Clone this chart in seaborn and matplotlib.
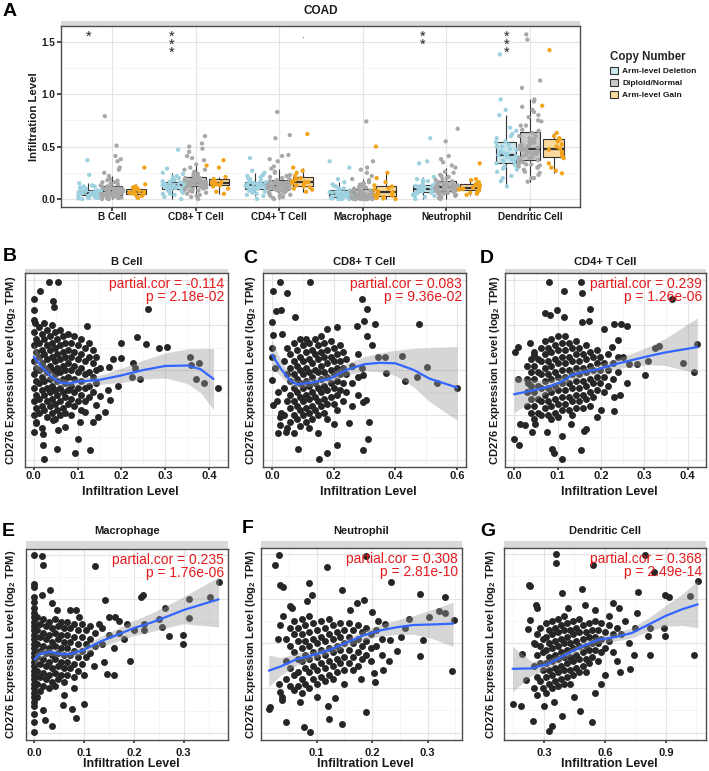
import numpy as np
import pandas as pd
import matplotlib
matplotlib.use("Agg")
import matplotlib.pyplot as plt
from matplotlib.patches import Patch, Rectangle
import seaborn as sns

# ---------------- Panel A data (infiltration level by copy number) ----------------
cells = ["B Cell", "CD8+ T Cell", "CD4+ T Cell", "Macrophage", "Neutrophil", "Dendritic Cell"]
copy_levels = ["Arm-level Deletion", "Diploid/Normal", "Arm-level Gain"]

bcell_del = [0.0, 0.005, 0.01, 0.015, 0.02, 0.025, 0.03, 0.035, 0.04, 0.042, 0.045, 0.048, 0.05, 0.053,
             0.056, 0.06, 0.063, 0.066, 0.07, 0.074, 0.078, 0.082, 0.086, 0.09, 0.1, 0.11, 0.12, 0.13,
             0.15, 0.23, 0.37, 0.01, 0.03, 0.05, 0.06, 0.07, 0.08, 0.1, 0.12, 0.055, 0.065]
bcell_dip = [0.0, 0.0, 0.003, 0.006, 0.01, 0.012, 0.014, 0.018, 0.022, 0.026, 0.03, 0.034, 0.038, 0.04,
             0.043, 0.046, 0.05, 0.053, 0.056, 0.059, 0.062, 0.065, 0.065, 0.068, 0.071, 0.074, 0.077,
             0.08, 0.083, 0.086, 0.09, 0.094, 0.097, 0.1, 0.105, 0.11, 0.12, 0.13, 0.14, 0.15, 0.16,
             0.175, 0.19, 0.22, 0.25, 0.28, 0.3, 0.36, 0.38, 0.41, 0.51, 0.79,
             0.01, 0.02, 0.03, 0.04, 0.05, 0.06, 0.07, 0.08, 0.09, 0.1, 0.12, 0.14, 0.16, 0.18,
             0.045, 0.055, 0.065, 0.075, 0.085, 0.095]
bcell_gain = [0.01, 0.02, 0.03, 0.045, 0.05, 0.055, 0.06, 0.065, 0.07, 0.075, 0.085, 0.09, 0.1, 0.11,
              0.12, 0.14, 0.30]

cd8_del = [0.0, 0.02, 0.04, 0.05, 0.06, 0.07, 0.08, 0.09, 0.095, 0.1, 0.105, 0.11, 0.115, 0.12, 0.125,
           0.13, 0.135, 0.14, 0.145, 0.15, 0.155, 0.16, 0.165, 0.17, 0.18, 0.2, 0.22, 0.25, 0.29, 0.47,
           0.05, 0.08, 0.1, 0.12, 0.13, 0.14, 0.16, 0.18, 0.21, 0.24, 0.125, 0.135]
cd8_dip = [0.0, 0.02, 0.04, 0.06, 0.07, 0.08, 0.09, 0.1, 0.105, 0.11, 0.115,
           0.12, 0.123, 0.126, 0.13, 0.134, 0.138, 0.142, 0.146, 0.15, 0.153, 0.155,
           0.16, 0.165, 0.17, 0.175, 0.18, 0.185, 0.19, 0.195, 0.2, 0.205, 0.21,
           0.24, 0.28, 0.33, 0.37, 0.39, 0.41, 0.45, 0.48, 0.5, 0.53, 0.6,
           0.03, 0.05, 0.08, 0.1, 0.11, 0.12, 0.13, 0.14, 0.15, 0.16, 0.17, 0.18, 0.19, 0.2, 0.22,
           0.24, 0.26, 0.28, 0.3, 0.14, 0.155, 0.165]
cd8_gain = [0.05, 0.07, 0.1, 0.12, 0.13, 0.135, 0.14, 0.15, 0.155, 0.16, 0.165, 0.17, 0.18, 0.19,
            0.21, 0.3, 0.32, 0.37]

cd4_del = [0.0, 0.03, 0.05, 0.06, 0.07, 0.08, 0.09, 0.1, 0.105, 0.11, 0.115, 0.12, 0.125, 0.13, 0.135,
           0.14, 0.145, 0.15, 0.155, 0.16, 0.165, 0.17, 0.19, 0.21, 0.23, 0.25, 0.27, 0.39,
           0.04, 0.08, 0.1, 0.12, 0.13, 0.14, 0.16, 0.18, 0.2, 0.22, 0.125, 0.135]
cd4_dip = [0.0, 0.01, 0.02, 0.03, 0.04, 0.05, 0.06, 0.07, 0.075, 0.08, 0.085,
           0.09, 0.093, 0.096, 0.1, 0.103, 0.106, 0.11, 0.113, 0.116, 0.12, 0.12,
           0.125, 0.13, 0.133, 0.136, 0.14, 0.143, 0.146, 0.15, 0.153, 0.157, 0.16,
           0.18, 0.2, 0.22, 0.25, 0.29, 0.31, 0.36, 0.38, 0.41, 0.42, 0.58, 0.61, 0.83,
           0.02, 0.04, 0.06, 0.08, 0.09, 0.1, 0.11, 0.12, 0.13, 0.14, 0.15, 0.16, 0.17, 0.19,
           0.21, 0.23, 0.26, 0.105, 0.125, 0.145]
cd4_gain = [0.07, 0.09, 0.1, 0.11, 0.12, 0.13, 0.14, 0.15, 0.16, 0.165, 0.17, 0.18, 0.19, 0.2, 0.22,
            0.25, 0.27, 0.3, 0.62]

mac_del = [0.0, 0.0, 0.0, 0.005, 0.005, 0.01, 0.01, 0.015, 0.02, 0.025, 0.03, 0.035, 0.04, 0.04, 0.045,
           0.05, 0.055, 0.06, 0.065, 0.07, 0.08, 0.09, 0.1, 0.12, 0.14, 0.16, 0.19, 0.3, 0.36,
           0.0, 0.01, 0.02, 0.03, 0.04, 0.05, 0.06, 0.08, 0.1, 0.13]
mac_dip = [0.0, 0.0, 0.0, 0.0, 0.0, 0.0, 0.0, 0.002, 0.004, 0.006, 0.008,
           0.01, 0.012, 0.015, 0.018, 0.02, 0.022, 0.025, 0.027, 0.03, 0.03,
           0.035, 0.04, 0.045, 0.05, 0.055, 0.06, 0.065, 0.07, 0.075, 0.08,
           0.09, 0.1, 0.11, 0.12, 0.14, 0.16, 0.19, 0.22, 0.25, 0.28, 0.3, 0.36, 0.74,
           0.0, 0.0, 0.0, 0.005, 0.01, 0.015, 0.02, 0.025, 0.03, 0.04, 0.05, 0.06, 0.07, 0.08,
           0.1, 0.12, 0.15, 0.18, 0.035, 0.045]
mac_gain = [0.0, 0.005, 0.01, 0.015, 0.02, 0.03, 0.04, 0.05, 0.06, 0.065, 0.075, 0.09, 0.1, 0.12,
            0.13, 0.16, 0.2, 0.25, 0.5]

neu_del = [0.0, 0.02, 0.03, 0.04, 0.05, 0.055, 0.06, 0.065, 0.07, 0.075, 0.08, 0.085, 0.09, 0.095,
           0.1, 0.105, 0.11, 0.115, 0.12, 0.125, 0.13, 0.135, 0.15, 0.17, 0.19, 0.21, 0.34, 0.36, 0.58,
           0.03, 0.06, 0.08, 0.09, 0.1, 0.11, 0.12, 0.14, 0.16, 0.18]
neu_dip = [0.0, 0.01, 0.02, 0.03, 0.04, 0.05, 0.055, 0.06, 0.065, 0.07,
           0.075, 0.08, 0.085, 0.09, 0.095, 0.1, 0.103, 0.106, 0.11, 0.11,
           0.115, 0.12, 0.125, 0.13, 0.135, 0.14, 0.145, 0.15, 0.155,
           0.17, 0.19, 0.21, 0.23, 0.26, 0.3, 0.32, 0.35, 0.38, 0.41, 0.55, 0.67,
           0.02, 0.04, 0.06, 0.07, 0.08, 0.09, 0.1, 0.11, 0.12, 0.13, 0.14, 0.15, 0.16, 0.18,
           0.2, 0.22, 0.25, 0.095, 0.105, 0.125]
neu_gain = [0.04, 0.05, 0.06, 0.07, 0.08, 0.09, 0.095, 0.1, 0.105, 0.11, 0.12, 0.13, 0.14, 0.15,
            0.16, 0.18, 0.19, 0.34]

dc_del = [0.12, 0.17, 0.22, 0.26, 0.29, 0.31, 0.33, 0.34, 0.355, 0.37, 0.38, 0.39, 0.4, 0.41, 0.42,
          0.43, 0.44, 0.455, 0.47, 0.48, 0.5, 0.52, 0.55, 0.58, 0.62, 0.65, 0.68, 0.8, 0.85, 0.95, 1.38,
          0.2, 0.28, 0.32, 0.36, 0.4, 0.42, 0.45, 0.5, 0.54, 0.6]
dc_dip = [0.165, 0.2, 0.23, 0.26, 0.28, 0.3, 0.31, 0.32, 0.33, 0.34, 0.35,
          0.36, 0.37, 0.38, 0.39, 0.4, 0.41, 0.42, 0.43, 0.44, 0.45, 0.46,
          0.47, 0.48, 0.49, 0.5, 0.51, 0.52, 0.53, 0.54, 0.55, 0.565, 0.58,
          0.6, 0.63, 0.66, 0.7, 0.74, 0.78, 0.83, 0.88, 0.93, 0.95, 1.06, 1.13, 1.52, 1.57,
          0.2, 0.25, 0.3, 0.33, 0.36, 0.39, 0.42, 0.45, 0.48, 0.51, 0.54, 0.57, 0.6, 0.65, 0.7,
          0.75, 0.8, 0.85, 0.44, 0.47, 0.5]
dc_gain = [0.245, 0.27, 0.3, 0.34, 0.39, 0.41, 0.43, 0.45, 0.47, 0.48, 0.5, 0.52, 0.55, 0.57, 0.58,
           0.6, 0.63, 0.89, 1.42]

# significance labels per cell type (copy level they sit above, label text)
sig_cells = ["B Cell", "CD8+ T Cell", "CD4+ T Cell", "Neutrophil", "Dendritic Cell"]
sig_levels = ["Arm-level Deletion", "Arm-level Deletion", "Arm-level Gain", "Arm-level Deletion",
              "Arm-level Deletion"]
sig_labels = ["*", "***", ".", "**", "***"]

# ---------------- Scatter panels data ----------------
b_points = [
    (0.035, 7.96), (0.056, 7.96), (0.014, 7.75), (0.0, 7.57), (0.0, 7.34), (0.0, 7.12), (0.002, 7.04),
    (0.045, 7.53), (0.047, 7.40), (0.261, 7.36), (0.121, 6.99), (0.235, 6.73), (0.199, 6.60),
    (0.255, 6.57), (0.285, 6.50), (0.303, 6.52), (0.357, 6.28), (0.376, 6.16), (0.359, 6.11),
    (0.371, 5.81), (0.388, 5.72), (0.42, 5.61), (0.227, 6.15), (0.231, 6.04), (0.181, 6.24),
    (0.2, 6.26), (0.172, 6.07), (0.151, 6.05), (0.224, 5.84), (0.243, 5.81), (0.193, 5.65),
    (0.17, 5.55), (0.151, 5.42), (0.143, 5.22), (0.174, 5.33), (0.162, 5.07), (0.147, 4.96),
    (0.136, 4.84), (0.106, 4.84), (0.128, 4.21), (0.094, 4.15), (0.052, 4.25), (0.024, 4.02),
    (0.02, 4.34), (0.0, 4.61), (0.022, 4.58), (0.005, 4.81), (0.102, 4.47), (0.045, 4.88),
    (0.071, 4.73), (0.056, 4.66), (0.117, 5.07),
    (0.0, 6.85), (0.0, 6.55), (0.0, 6.2), (0.0, 5.9), (0.0, 5.6), (0.0, 5.3), (0.0, 5.0),
    (0.006, 6.7), (0.006, 6.4), (0.006, 6.05), (0.006, 5.75), (0.006, 5.45), (0.006, 5.15), (0.006, 4.85),
    (0.012, 6.95), (0.012, 6.6), (0.012, 6.3), (0.012, 6.0), (0.012, 5.7), (0.012, 5.35), (0.012, 5.05),
    (0.018, 6.8), (0.018, 6.45), (0.018, 6.15), (0.018, 5.85), (0.018, 5.55), (0.018, 5.2), (0.018, 4.7),
    (0.024, 7.05), (0.024, 6.7), (0.024, 6.35), (0.024, 6.05), (0.024, 5.75), (0.024, 5.45), (0.024, 5.1),
    (0.030, 6.9), (0.030, 6.55), (0.030, 6.25), (0.030, 5.95), (0.030, 5.6), (0.030, 5.3), (0.030, 4.95),
    (0.036, 6.75), (0.036, 6.45), (0.036, 6.1), (0.036, 5.8), (0.036, 5.5), (0.036, 5.2),
    (0.042, 7.0), (0.042, 6.6), (0.042, 6.3), (0.042, 6.0), (0.042, 5.65), (0.042, 5.35), (0.042, 5.05),
    (0.048, 6.85), (0.048, 6.5), (0.048, 6.2), (0.048, 5.9), (0.048, 5.55), (0.048, 5.25), (0.048, 4.9),
    (0.054, 6.7), (0.054, 6.35), (0.054, 6.05), (0.054, 5.75), (0.054, 5.45), (0.054, 5.1),
    (0.060, 6.9), (0.060, 6.55), (0.060, 6.25), (0.060, 5.95), (0.060, 5.6), (0.060, 5.3), (0.060, 5.0),
    (0.066, 6.75), (0.066, 6.4), (0.066, 6.1), (0.066, 5.8), (0.066, 5.5), (0.066, 5.15),
    (0.072, 6.6), (0.072, 6.3), (0.072, 6.0), (0.072, 5.7), (0.072, 5.4), (0.072, 5.05),
    (0.078, 6.8), (0.078, 6.45), (0.078, 6.15), (0.078, 5.85), (0.078, 5.55), (0.078, 5.25),
    (0.085, 6.6), (0.085, 6.3), (0.085, 6.0), (0.085, 5.65), (0.085, 5.35), (0.085, 5.0),
    (0.092, 6.75), (0.092, 6.4), (0.092, 6.1), (0.092, 5.8), (0.092, 5.5), (0.092, 5.2),
    (0.100, 6.55), (0.100, 6.25), (0.100, 5.95), (0.100, 5.6), (0.100, 5.3),
    (0.108, 6.7), (0.108, 6.35), (0.108, 6.05), (0.108, 5.75), (0.108, 5.45), (0.108, 5.1),
    (0.116, 6.5), (0.116, 6.2), (0.116, 5.9), (0.116, 5.6), (0.116, 5.3),
    (0.125, 6.6), (0.125, 6.3), (0.125, 5.95), (0.125, 5.65), (0.125, 5.4),
    (0.134, 6.45), (0.134, 6.15), (0.134, 5.85), (0.134, 5.5),
    (0.143, 6.3), (0.143, 6.0), (0.143, 5.7),
]
b_curve_x = [0.00, 0.02, 0.04, 0.06, 0.08, 0.10, 0.15, 0.20, 0.25, 0.30, 0.35, 0.38, 0.41]
b_curve_y = [6.30, 6.05, 5.85, 5.72, 5.70, 5.74, 5.78, 5.88, 6.00, 6.09, 6.10, 6.02, 5.80]
b_curve_lo = [6.05, 5.90, 5.74, 5.64, 5.63, 5.67, 5.68, 5.72, 5.80, 5.82, 5.70, 5.50, 5.12]
b_curve_hi = [6.58, 6.22, 5.98, 5.82, 5.78, 5.82, 5.88, 6.04, 6.22, 6.38, 6.47, 6.48, 6.48]

c_points = [
    (0.025, 7.96), (0.123, 7.96), (0.003, 7.75), (0.049, 7.72), (0.012, 7.31), (0.03, 7.34),
    (0.001, 7.08), (0.074, 7.18), (0.291, 7.57), (0.307, 7.36), (0.298, 7.10), (0.334, 7.03),
    (0.477, 7.03), (0.275, 6.99), (0.212, 6.96), (0.177, 6.91), (0.034, 6.80), (0.003, 6.78),
    (0.0, 6.48), (0.0, 5.78), (0.003, 5.22), (0.025, 4.96), (0.025, 4.77), (0.02, 4.60),
    (0.047, 4.62), (0.085, 4.25), (0.152, 4.02), (0.177, 4.16), (0.212, 4.34), (0.312, 4.46),
    (0.296, 4.21), (0.315, 4.84), (0.305, 5.33), (0.296, 5.29), (0.25, 4.81), (0.345, 6.28),
    (0.365, 6.28), (0.423, 6.31), (0.37, 5.94), (0.432, 5.75), (0.47, 5.84), (0.502, 6.07),
    (0.535, 5.72), (0.6, 5.61), (0.296, 5.89), (0.293, 6.04), (0.323, 6.56), (0.307, 6.75),
    (0.0, 6.3), (0.01, 6.05), (0.02, 5.5), (0.015, 5.3), (0.03, 5.05),
    (0.04, 6.2), (0.04, 5.6), (0.04, 5.0),
    (0.05, 6.5), (0.05, 5.9), (0.05, 5.3), (0.05, 4.7),
    (0.06, 6.35), (0.06, 6.05), (0.06, 5.75), (0.06, 5.45), (0.06, 5.15), (0.06, 4.85),
    (0.07, 6.6), (0.07, 6.2), (0.07, 5.9), (0.07, 5.6), (0.07, 5.3), (0.07, 5.0), (0.07, 4.6),
    (0.08, 6.45), (0.08, 6.1), (0.08, 5.8), (0.08, 5.5), (0.08, 5.2), (0.08, 4.9),
    (0.09, 6.7), (0.09, 6.3), (0.09, 6.0), (0.09, 5.7), (0.09, 5.4), (0.09, 5.1), (0.09, 4.75),
    (0.10, 6.55), (0.10, 6.2), (0.10, 5.9), (0.10, 5.6), (0.10, 5.3), (0.10, 5.0),
    (0.11, 6.7), (0.11, 6.4), (0.11, 6.05), (0.11, 5.75), (0.11, 5.45), (0.11, 5.15), (0.11, 4.85),
    (0.12, 6.6), (0.12, 6.25), (0.12, 5.95), (0.12, 5.65), (0.12, 5.35), (0.12, 5.05), (0.12, 4.7),
    (0.13, 6.45), (0.13, 6.15), (0.13, 5.85), (0.13, 5.5), (0.13, 5.2), (0.13, 4.9),
    (0.14, 6.7), (0.14, 6.35), (0.14, 6.0), (0.14, 5.7), (0.14, 5.4), (0.14, 5.1),
    (0.15, 6.55), (0.15, 6.25), (0.15, 5.95), (0.15, 5.6), (0.15, 5.3), (0.15, 5.0), (0.15, 4.6),
    (0.16, 6.75), (0.16, 6.4), (0.16, 6.1), (0.16, 5.8), (0.16, 5.5), (0.16, 5.2),
    (0.17, 6.6), (0.17, 6.3), (0.17, 5.95), (0.17, 5.65), (0.17, 5.35), (0.17, 5.05),
    (0.18, 6.45), (0.18, 6.15), (0.18, 5.85), (0.18, 5.55), (0.18, 5.25), (0.18, 4.9),
    (0.19, 6.65), (0.19, 6.3), (0.19, 6.0), (0.19, 5.7), (0.19, 5.4),
    (0.20, 6.5), (0.20, 6.2), (0.20, 5.9), (0.20, 5.6), (0.20, 5.25), (0.20, 4.8),
    (0.21, 6.35), (0.21, 6.05), (0.21, 5.75), (0.21, 5.45), (0.21, 5.1),
    (0.22, 6.55), (0.22, 6.2), (0.22, 5.9), (0.22, 5.55),
    (0.23, 6.4), (0.23, 6.05), (0.23, 5.7), (0.23, 5.3),
    (0.24, 6.25), (0.24, 5.9), (0.24, 5.5),
    (0.26, 6.1), (0.26, 5.7), (0.26, 5.2),
    (0.28, 6.35), (0.28, 5.85), (0.28, 5.45),
]
c_curve_x = [0.00, 0.03, 0.06, 0.08, 0.13, 0.19, 0.24, 0.30, 0.35, 0.40, 0.46, 0.51, 0.60]
c_curve_y = [6.34, 6.02, 5.76, 5.68, 5.72, 5.81, 6.00, 6.13, 6.16, 6.15, 6.00, 5.81, 5.61]
c_curve_lo = [6.05, 5.85, 5.66, 5.60, 5.64, 5.72, 5.88, 5.98, 5.96, 5.88, 5.62, 5.30, 4.88]
c_curve_hi = [6.65, 6.20, 5.88, 5.77, 5.81, 5.92, 6.14, 6.30, 6.38, 6.44, 6.48, 6.50, 6.52]

d_points = [
    (0.081, 7.96), (0.154, 7.96), (0.114, 7.75), (0.157, 7.72), (0.07, 7.28), (0.083, 7.22),
    (0.098, 7.34), (0.174, 7.36), (0.116, 7.17), (0.156, 7.08), (0.172, 7.10), (0.363, 7.57),
    (0.229, 7.02), (0.247, 7.03), (0.261, 6.97), (0.206, 6.91), (0.001, 6.41), (0.009, 6.51),
    (0.037, 6.60), (0.045, 6.34), (0.01, 5.81), (0.031, 5.72), (0.0, 4.47), (0.012, 4.34),
    (0.014, 4.79), (0.025, 4.77), (0.041, 4.62), (0.049, 4.79), (0.075, 4.62), (0.088, 4.25),
    (0.093, 4.15), (0.11, 4.02), (0.11, 4.52), (0.154, 4.22), (0.16, 4.64), (0.165, 4.69),
    (0.231, 5.09), (0.244, 5.44), (0.302, 5.89), (0.308, 6.19), (0.283, 6.13), (0.265, 6.13),
    (0.325, 6.49), (0.334, 6.54), (0.388, 6.16), (0.415, 5.96), (0.422, 6.57), (0.225, 6.52),
    (0.24, 6.66), (0.25, 6.3), (0.26, 5.7), (0.23, 5.4), (0.2, 5.1), (0.19, 4.95), (0.13, 4.8),
    (0.03, 6.1), (0.03, 5.8), (0.03, 5.5), (0.03, 5.2),
    (0.038, 6.25), (0.038, 5.95), (0.038, 5.65), (0.038, 5.35), (0.038, 5.05),
    (0.046, 6.4), (0.046, 6.1), (0.046, 5.8), (0.046, 5.5), (0.046, 5.2), (0.046, 4.9),
    (0.054, 6.25), (0.054, 5.95), (0.054, 5.65), (0.054, 5.35), (0.054, 5.05),
    (0.062, 6.5), (0.062, 6.2), (0.062, 5.9), (0.062, 5.6), (0.062, 5.3), (0.062, 5.0),
    (0.070, 6.65), (0.070, 6.35), (0.070, 6.05), (0.070, 5.75), (0.070, 5.45), (0.070, 5.15),
    (0.078, 6.5), (0.078, 6.2), (0.078, 5.9), (0.078, 5.6), (0.078, 5.3), (0.078, 5.0),
    (0.086, 6.7), (0.086, 6.4), (0.086, 6.1), (0.086, 5.8), (0.086, 5.5), (0.086, 5.2), (0.086, 4.9),
    (0.094, 6.55), (0.094, 6.25), (0.094, 5.95), (0.094, 5.65), (0.094, 5.35), (0.094, 5.05),
    (0.102, 6.75), (0.102, 6.45), (0.102, 6.15), (0.102, 5.85), (0.102, 5.55), (0.102, 5.25), (0.102, 4.95),
    (0.110, 6.6), (0.110, 6.3), (0.110, 6.0), (0.110, 5.7), (0.110, 5.4), (0.110, 5.1),
    (0.118, 6.75), (0.118, 6.45), (0.118, 6.15), (0.118, 5.85), (0.118, 5.55), (0.118, 5.25),
    (0.126, 6.6), (0.126, 6.3), (0.126, 6.0), (0.126, 5.7), (0.126, 5.4), (0.126, 5.1),
    (0.134, 6.5), (0.134, 6.2), (0.134, 5.9), (0.134, 5.6), (0.134, 5.3), (0.134, 5.0),
    (0.142, 6.65), (0.142, 6.35), (0.142, 6.05), (0.142, 5.75), (0.142, 5.45), (0.142, 5.15),
    (0.150, 6.5), (0.150, 6.2), (0.150, 5.9), (0.150, 5.6), (0.150, 5.3),
    (0.158, 6.35), (0.158, 6.05), (0.158, 5.75), (0.158, 5.45), (0.158, 5.15),
    (0.166, 6.55), (0.166, 6.25), (0.166, 5.95), (0.166, 5.65), (0.166, 5.35),
    (0.174, 6.4), (0.174, 6.1), (0.174, 5.8), (0.174, 5.5), (0.174, 5.2),
    (0.182, 6.3), (0.182, 6.0), (0.182, 5.7), (0.182, 5.4),
    (0.190, 6.45), (0.190, 6.15), (0.190, 5.85), (0.190, 5.55),
    (0.198, 6.3), (0.198, 6.0), (0.198, 5.7),
    (0.206, 6.15), (0.206, 5.85), (0.206, 5.5),
    (0.216, 6.35), (0.216, 6.0), (0.216, 5.65),
    (0.228, 6.15), (0.228, 5.8), (0.24, 6.3), (0.24, 5.95),
]
d_curve_x = [0.0, 0.041, 0.079, 0.11, 0.133, 0.164, 0.194, 0.233, 0.271, 0.31, 0.348, 0.422]
d_curve_y = [5.46, 5.54, 5.63, 5.74, 5.89, 5.96, 6.02, 6.13, 6.22, 6.31, 6.39, 6.51]
d_curve_lo = [5.05, 5.30, 5.50, 5.63, 5.79, 5.87, 5.92, 6.02, 6.08, 6.12, 6.10, 5.93]
d_curve_hi = [5.86, 5.78, 5.76, 5.86, 5.99, 6.05, 6.12, 6.24, 6.37, 6.52, 6.70, 7.16]

e_points = [
    (0.0, 8.0), (0.016, 7.98), (0.018, 7.77), (0.121, 7.74), (0.0, 7.35), (0.0, 7.27), (0.032, 7.2),
    (0.016, 7.1), (0.036, 6.91), (0.142, 6.98), (0.219, 7.1), (0.215, 7.05), (0.37, 7.38),
    (0.352, 7.06), (0.311, 7.01), (0.311, 6.59), (0.263, 6.8), (0.25, 6.55), (0.257, 6.38),
    (0.221, 6.44), (0.221, 6.31), (0.271, 6.18), (0.298, 6.2), (0.298, 5.99), (0.193, 5.62),
    (0.146, 5.33), (0.159, 5.29), (0.099, 4.64), (0.084, 4.34), (0.075, 4.54), (0.058, 4.62),
    (0.036, 4.15), (0.021, 4.28), (0.018, 4.52), (0.0, 4.24), (0.0, 4.02), (0.0, 4.43),
    (0.072, 6.76), (0.084, 6.77), (0.162, 6.61), (0.169, 6.52), (0.2, 6.3), (0.18, 6.1), (0.16, 5.9),
    (0.17, 6.25), (0.14, 5.6), (0.12, 5.5), (0.1, 5.3), (0.08, 5.0), (0.06, 4.85), (0.045, 6.75),
    (0.09, 6.6), (0.13, 6.45), (0.185, 6.45), (0.15, 6.6),
    (0.0, 4.6), (0.0, 4.7), (0.0, 4.8), (0.0, 4.9), (0.0, 5.0), (0.0, 5.1), (0.0, 5.2), (0.0, 5.3),
    (0.0, 5.4), (0.0, 5.5), (0.0, 5.6), (0.0, 5.7), (0.0, 5.8), (0.0, 5.9), (0.0, 6.0), (0.0, 6.1),
    (0.0, 6.2), (0.0, 6.3), (0.0, 6.4), (0.0, 6.5), (0.0, 6.6), (0.0, 6.7), (0.0, 6.8), (0.0, 6.95),
    (0.0, 7.05),
    (0.006, 6.6), (0.006, 6.3), (0.006, 6.0), (0.006, 5.7), (0.006, 5.4), (0.006, 5.1), (0.006, 4.8),
    (0.012, 6.45), (0.012, 6.15), (0.012, 5.85), (0.012, 5.55), (0.012, 5.25), (0.012, 4.95),
    (0.018, 6.55), (0.018, 6.25), (0.018, 5.95), (0.018, 5.65), (0.018, 5.35), (0.018, 5.05),
    (0.024, 6.4), (0.024, 6.1), (0.024, 5.8), (0.024, 5.5), (0.024, 5.2),
    (0.030, 6.5), (0.030, 6.2), (0.030, 5.9), (0.030, 5.6), (0.030, 5.3), (0.030, 5.0),
    (0.036, 6.35), (0.036, 6.05), (0.036, 5.75), (0.036, 5.45), (0.036, 5.15),
    (0.042, 6.55), (0.042, 6.25), (0.042, 5.95), (0.042, 5.65), (0.042, 5.35), (0.042, 5.05),
    (0.048, 6.4), (0.048, 6.1), (0.048, 5.8), (0.048, 5.5), (0.048, 5.2),
    (0.054, 6.5), (0.054, 6.2), (0.054, 5.9), (0.054, 5.6), (0.054, 5.3),
    (0.060, 6.35), (0.060, 6.05), (0.060, 5.75), (0.060, 5.45), (0.060, 5.15),
    (0.066, 6.5), (0.066, 6.2), (0.066, 5.9), (0.066, 5.6), (0.066, 5.3),
    (0.072, 6.35), (0.072, 6.05), (0.072, 5.75), (0.072, 5.45),
    (0.080, 6.45), (0.080, 6.15), (0.080, 5.85), (0.080, 5.55), (0.080, 5.25),
    (0.088, 6.3), (0.088, 6.0), (0.088, 5.7), (0.088, 5.4),
    (0.096, 6.45), (0.096, 6.15), (0.096, 5.85), (0.096, 5.55),
    (0.104, 6.3), (0.104, 6.0), (0.104, 5.7),
    (0.112, 6.4), (0.112, 6.1), (0.112, 5.8),
    (0.122, 6.25), (0.122, 5.95), (0.135, 6.35), (0.135, 6.0), (0.15, 6.2),
]
e_curve_x = [0.0, 0.011, 0.032, 0.052, 0.072, 0.099, 0.132, 0.166, 0.199, 0.233, 0.266, 0.3, 0.37]
e_curve_y = [5.65, 5.77, 5.82, 5.77, 5.77, 5.86, 6.05, 6.20, 6.35, 6.47, 6.61, 6.76, 7.00]
e_curve_lo = [5.52, 5.68, 5.74, 5.70, 5.70, 5.77, 5.94, 6.06, 6.18, 6.27, 6.36, 6.45, 6.38]
e_curve_hi = [5.78, 5.86, 5.90, 5.85, 5.85, 5.95, 6.16, 6.34, 6.52, 6.68, 6.86, 7.06, 7.50]

f_points = [
    (0.032, 7.98), (0.026, 7.76), (0.034, 7.3), (0.04, 7.25), (0.119, 7.71), (0.087, 7.34),
    (0.146, 7.2), (0.19, 7.96), (0.235, 7.38), (0.287, 7.1), (0.332, 7.04), (0.186, 6.97),
    (0.172, 6.89), (0.321, 6.72), (0.332, 6.67), (0.347, 6.52), (0.302, 6.59), (0.266, 6.55),
    (0.291, 6.07), (0.287, 5.71), (0.344, 5.39), (0.252, 6.14), (0.233, 6.08), (0.245, 5.82),
    (0.224, 6.44), (0.016, 4.58), (0.015, 4.54), (0.045, 4.24), (0.078, 4.13), (0.089, 4.02),
    (0.122, 4.32), (0.146, 4.2), (0.189, 4.47), (0.134, 4.77), (0.206, 5.14), (0.203, 5.33),
    (0.037, 4.73), (0.038, 4.8), (0.034, 4.92), (0.032, 5.1), (0.052, 6.83), (0.056, 6.8),
    (0.082, 6.95), (0.092, 7.08), (0.035, 6.4), (0.04, 6.6), (0.03, 6.1), (0.21, 6.5), (0.2, 6.7),
    (0.16, 6.75), (0.23, 5.6), (0.22, 5.4), (0.18, 5.2), (0.1, 4.8), (0.07, 4.7), (0.12, 4.6),
    (0.26, 6.35),
    (0.045, 6.1), (0.045, 5.6), (0.045, 5.2),
    (0.052, 6.35), (0.052, 5.95), (0.052, 5.45), (0.052, 5.05),
    (0.059, 6.5), (0.059, 6.2), (0.059, 5.8), (0.059, 5.3), (0.059, 4.95),
    (0.066, 6.35), (0.066, 6.05), (0.066, 5.65), (0.066, 5.35), (0.066, 5.05),
    (0.073, 6.55), (0.073, 6.2), (0.073, 5.9), (0.073, 5.6), (0.073, 5.2), (0.073, 4.9),
    (0.080, 6.4), (0.080, 6.05), (0.080, 5.75), (0.080, 5.45), (0.080, 5.1),
    (0.087, 6.6), (0.087, 6.25), (0.087, 5.95), (0.087, 5.65), (0.087, 5.35), (0.087, 5.0),
    (0.094, 6.45), (0.094, 6.1), (0.094, 5.8), (0.094, 5.5), (0.094, 5.2),
    (0.101, 6.3), (0.101, 6.0), (0.101, 5.7), (0.101, 5.4), (0.101, 5.1),
    (0.108, 6.5), (0.108, 6.15), (0.108, 5.85), (0.108, 5.55), (0.108, 5.25),
    (0.115, 6.35), (0.115, 6.05), (0.115, 5.75), (0.115, 5.45), (0.115, 5.15),
    (0.122, 6.55), (0.122, 6.2), (0.122, 5.9), (0.122, 5.6), (0.122, 5.3),
    (0.129, 6.4), (0.129, 6.1), (0.129, 5.8), (0.129, 5.5), (0.129, 5.2),
    (0.136, 6.25), (0.136, 5.95), (0.136, 5.65), (0.136, 5.35),
    (0.143, 6.45), (0.143, 6.15), (0.143, 5.85), (0.143, 5.55),
    (0.150, 6.3), (0.150, 6.0), (0.150, 5.7), (0.150, 5.4), (0.150, 5.1),
    (0.158, 6.45), (0.158, 6.15), (0.158, 5.85), (0.158, 5.55),
    (0.166, 6.3), (0.166, 6.0), (0.166, 5.7), (0.166, 5.4),
    (0.174, 6.4), (0.174, 6.1), (0.174, 5.8), (0.174, 5.5),
    (0.182, 6.25), (0.182, 5.95), (0.182, 5.65),
    (0.190, 6.35), (0.190, 6.05), (0.190, 5.75),
    (0.198, 6.2), (0.198, 5.9), (0.198, 5.6),
    (0.208, 6.3), (0.208, 5.95), (0.218, 6.1), (0.218, 5.75),
]
f_curve_x = [0.014, 0.035, 0.065, 0.095, 0.125, 0.155, 0.185, 0.215, 0.245, 0.275, 0.305, 0.346]
f_curve_y = [5.39, 5.48, 5.65, 5.74, 5.86, 6.02, 6.18, 6.29, 6.36, 6.41, 6.42, 6.44]
f_curve_lo = [5.03, 5.28, 5.52, 5.66, 5.78, 5.93, 6.07, 6.16, 6.20, 6.20, 6.12, 5.93]
f_curve_hi = [5.74, 5.68, 5.78, 5.83, 5.95, 6.11, 6.29, 6.42, 6.52, 6.62, 6.74, 6.92]

g_points = [
    (0.358, 8.0), (0.358, 7.79), (0.543, 7.76), (0.798, 7.98), (0.839, 7.6), (0.228, 7.3),
    (0.232, 7.27), (0.387, 7.12), (0.486, 7.21), (0.765, 7.14), (0.893, 7.08), (0.917, 7.04),
    (1.056, 7.4), (1.02, 7.06), (0.67, 6.8), (0.757, 6.68), (0.259, 6.85), (0.264, 6.8),
    (0.231, 6.53), (0.223, 6.31), (0.256, 5.99), (0.193, 5.77), (0.823, 6.35), (0.892, 6.35),
    (0.893, 6.16), (0.811, 6.16), (1.036, 5.74), (0.823, 5.74), (0.741, 5.74), (0.672, 5.35),
    (0.724, 5.42), (0.552, 4.88), (0.478, 4.49), (0.539, 4.24), (0.387, 4.37), (0.341, 4.15),
    (0.325, 4.04), (0.247, 4.26), (0.19, 4.59), (0.146, 4.64), (0.21, 5.18), (0.7, 6.5),
    (0.68, 6.2), (0.72, 6.0), (0.75, 6.35), (0.62, 6.6), (0.66, 5.6), (0.6, 5.3), (0.58, 5.1),
    (0.45, 4.8), (0.35, 4.7), (0.3, 4.6), (0.42, 6.8), (0.5, 6.85), (0.55, 6.75), (0.64, 6.9),
    (0.25, 6.0), (0.25, 5.5), (0.25, 5.0),
    (0.265, 6.2), (0.265, 5.75), (0.265, 5.25), (0.265, 4.85),
    (0.28, 6.35), (0.28, 5.95), (0.28, 5.55), (0.28, 5.15),
    (0.295, 6.1), (0.295, 5.8), (0.295, 5.4), (0.295, 5.0),
    (0.31, 6.45), (0.31, 6.15), (0.31, 5.85), (0.31, 5.55), (0.31, 5.25), (0.31, 4.9),
    (0.325, 6.3), (0.325, 6.0), (0.325, 5.7), (0.325, 5.4), (0.325, 5.1),
    (0.34, 6.5), (0.34, 6.2), (0.34, 5.9), (0.34, 5.6), (0.34, 5.3), (0.34, 5.0),
    (0.355, 6.35), (0.355, 6.05), (0.355, 5.75), (0.355, 5.45), (0.355, 5.15),
    (0.37, 6.55), (0.37, 6.25), (0.37, 5.95), (0.37, 5.65), (0.37, 5.35), (0.37, 5.05),
    (0.385, 6.4), (0.385, 6.1), (0.385, 5.8), (0.385, 5.5), (0.385, 5.2),
    (0.40, 6.6), (0.40, 6.3), (0.40, 6.0), (0.40, 5.7), (0.40, 5.4), (0.40, 5.1),
    (0.415, 6.45), (0.415, 6.15), (0.415, 5.85), (0.415, 5.55), (0.415, 5.25),
    (0.43, 6.3), (0.43, 6.0), (0.43, 5.7), (0.43, 5.4), (0.43, 5.1),
    (0.445, 6.5), (0.445, 6.2), (0.445, 5.9), (0.445, 5.6), (0.445, 5.3),
    (0.46, 6.35), (0.46, 6.05), (0.46, 5.75), (0.46, 5.45),
    (0.475, 6.55), (0.475, 6.25), (0.475, 5.95), (0.475, 5.65), (0.475, 5.35),
    (0.49, 6.4), (0.49, 6.1), (0.49, 5.8), (0.49, 5.5),
    (0.505, 6.25), (0.505, 5.95), (0.505, 5.65), (0.505, 5.35),
    (0.52, 6.45), (0.52, 6.15), (0.52, 5.85), (0.52, 5.55),
    (0.535, 6.3), (0.535, 6.0), (0.535, 5.7),
    (0.55, 6.5), (0.55, 6.15), (0.55, 5.85),
    (0.565, 6.3), (0.565, 6.0), (0.565, 5.6),
    (0.58, 6.45), (0.58, 6.1), (0.58, 5.8),
    (0.60, 6.25), (0.60, 5.9), (0.62, 6.4), (0.62, 6.05), (0.64, 6.2), (0.64, 5.8), (0.66, 6.35),
]
g_curve_x = [0.146, 0.239, 0.321, 0.404, 0.486, 0.568, 0.65, 0.732, 0.815, 0.897, 0.979, 1.056]
g_curve_y = [5.43, 5.44, 5.54, 5.74, 5.93, 6.08, 6.14, 6.23, 6.42, 6.61, 6.76, 6.87]
g_curve_lo = [4.92, 5.28, 5.44, 5.66, 5.85, 6.00, 6.05, 6.12, 6.27, 6.38, 6.40, 6.35]
g_curve_hi = [5.93, 5.60, 5.64, 5.82, 6.01, 6.16, 6.23, 6.35, 6.57, 6.84, 7.10, 7.40]

panel_titles = ["B Cell", "CD8+ T Cell", "CD4+ T Cell", "Macrophage", "Neutrophil", "Dendritic Cell"]
partial_cor = [-0.114, 0.083, 0.239, 0.235, 0.308, 0.368]
p_values = [2.18e-02, 9.36e-02, 1.26e-06, 1.76e-06, 2.81e-10, 2.49e-14]

# ---------------- Style ----------------
sns.set_theme(style="white")
plt.rcParams['font.family'] = ['Liberation Sans', 'DejaVu Sans']
plt.rcParams['mathtext.fontset'] = 'custom'
plt.rcParams['mathtext.rm'] = 'Liberation Sans:bold'
plt.rcParams['mathtext.bf'] = 'Liberation Sans:bold'
plt.rcParams['mathtext.it'] = 'Liberation Sans:bold'

W, H = 709, 771
fig = plt.figure(figsize=(W / 100, H / 100), dpi=100)
fig.patch.set_facecolor('white')

SPINE = '#4d4d4d'
GRID_MAJ = '#E4E4E4'
GRID_MIN = '#F1F1F1'
TXT = '#1a1a1a'


def fr(l, t, r, b):
    return [l / W, 1 - b / H, (r - l) / W, (b - t) / H]


def add_strip(l, t, r, h):
    fig.add_artist(Rectangle((l / W, 1 - t / H), (r - l) / W, h / H, transform=fig.transFigure,
                             facecolor='#D9D9D9', edgecolor='none', zorder=0))


def style_spines(ax):
    for s in ax.spines.values():
        s.set_color(SPINE)
        s.set_linewidth(1.0)
        s.set_visible(True)


# ---------------- Panel A ----------------
rows = []
groups = [(bcell_del, bcell_dip, bcell_gain), (cd8_del, cd8_dip, cd8_gain), (cd4_del, cd4_dip, cd4_gain),
          (mac_del, mac_dip, mac_gain), (neu_del, neu_dip, neu_gain), (dc_del, dc_dip, dc_gain)]
for cell, lists in zip(cells, groups):
    for lvl, vals in zip(copy_levels, lists):
        for v in vals:
            rows.append((cell, lvl, v))
df = pd.DataFrame(rows, columns=['cell', 'cn', 'value'])

pt_colors = ['#9DD1E0', '#A8A8A8', '#F2A31C']
box_colors = ['#A8D8E6', '#A6A6A6', '#F7C25A']

aL, aT, aR, aB = 61, 26, 580, 207
axA = fig.add_axes(fr(aL, aT, aR, aB))
np.random.seed(11)
sns.stripplot(data=df, x='cell', y='value', hue='cn', order=cells, hue_order=copy_levels,
              palette=dict(zip(copy_levels, pt_colors)), dodge=True, jitter=0.42, size=3.1,
              linewidth=0, ax=axA, legend=False)
sns.boxplot(data=df, x='cell', y='value', hue='cn', order=cells, hue_order=copy_levels,
            palette=dict(zip(copy_levels, box_colors)), saturation=1, width=0.85, gap=0.15,
            showfliers=False, linewidth=0.8, linecolor='#333333',
            medianprops=dict(linewidth=1.6, color='#333333'), capprops=dict(visible=False),
            ax=axA, legend=False)
for patch in axA.patches:
    r, g, b, _ = patch.get_facecolor()
    patch.set_facecolor((r, g, b, 0.6))

axA.set_xlim(-0.61, 5.6)
axA.set_ylim(-0.076, 1.65)
axA.set_yticks([0, 0.5, 1.0, 1.5])
axA.set_yticklabels(['0.0', '0.5', '1.0', '1.5'])
axA.set_yticks([0.25, 0.75, 1.25], minor=True)
axA.set_axisbelow(True)
axA.grid(True, which='major', color=GRID_MAJ, lw=0.8)
axA.grid(True, which='minor', axis='y', color=GRID_MIN, lw=0.5)
axA.tick_params(axis='both', which='major', labelsize=7.2, length=2.8, color='#333333', pad=1.0,
                labelcolor=TXT, bottom=True, left=True)
axA.tick_params(axis='both', which='minor', length=0)
for lbl in axA.get_xticklabels() + axA.get_yticklabels():
    lbl.set_fontweight('bold')
axA.set_xlabel('')
axA.set_ylabel('Infiltration Level', fontsize=8.2, fontweight='bold', color=TXT)
axA.yaxis.set_label_coords((39 - aL) / (aR - aL), 0.5)
style_spines(axA)
add_strip(aL, aT, aR, 5)
fig.text((aL + aR) / 2 / W, 1 - 11 / H, 'COAD', ha='center', va='center', fontsize=8.5,
         fontweight='bold', color=TXT)
fig.text(3 / W, 1 - 3 / H, 'A', ha='left', va='top', fontsize=14, fontweight='bold', color='black')

# significance marks (stacked vertically, one text per group)
dodge_off = {"Arm-level Deletion": -0.283, "Diploid/Normal": 0.0, "Arm-level Gain": 0.283}
for cname, lvl, lab in zip(sig_cells, sig_levels, sig_labels):
    sx = cells.index(cname) + dodge_off[lvl]
    if lab == '.':
        axA.text(sx, 1.56, '.', ha='center', va='center', fontsize=7, color='#222222')
    else:
        axA.text(sx, 1.615, '\n'.join(lab), ha='center', va='top', fontsize=10.5,
                 linespacing=0.45, color='#222222')

# legend
handles = [Patch(facecolor=(*matplotlib.colors.to_rgb(c), 0.6), edgecolor='#333333', linewidth=0.8)
           for c in box_colors]
leg = fig.legend(handles, copy_levels, title='Copy Number', loc='upper left',
                 bbox_to_anchor=(610 / W, 1 - 51 / H), frameon=False, fontsize=6,
                 title_fontsize=8.3, handlelength=1.0, handleheight=0.9, handletextpad=0.5,
                 labelspacing=0.45, alignment='left', borderaxespad=0, borderpad=0)
leg.get_title().set_fontweight('bold')
for t in leg.get_texts():
    t.set_fontweight('bold')
    t.set_color(TXT)

# ---------------- Scatter panels ----------------
panels = [
    dict(rect=(25, 273, 228, 467), pts=b_points, cx=b_curve_x, cy=b_curve_y, lo=b_curve_lo, hi=b_curve_hi,
         xlim=(-0.02, 0.443), ylim=(3.84, 8.16), xt=[0.0, 0.1, 0.2, 0.3, 0.4],
         xtl=['0.0', '0.1', '0.2', '0.3', '0.4'], xm=[0.05, 0.15, 0.25, 0.35],
         letter='B', lpos=(3, 248), strip=4, title_y=262, ylab_x=13, tick_c=476.5, xlab_c=493),
    dict(rect=(263, 273, 466, 467), pts=c_points, cx=c_curve_x, cy=c_curve_y, lo=c_curve_lo, hi=c_curve_hi,
         xlim=(-0.029, 0.629), ylim=(3.84, 8.16), xt=[0.0, 0.2, 0.4, 0.6],
         xtl=['0.0', '0.2', '0.4', '0.6'], xm=[0.1, 0.3, 0.5],
         letter='C', lpos=(243, 250), strip=4, title_y=262, ylab_x=253, tick_c=476.5, xlab_c=493),
    dict(rect=(505, 273, 706, 467), pts=d_points, cx=d_curve_x, cy=d_curve_y, lo=d_curve_lo, hi=d_curve_hi,
         xlim=(-0.021, 0.442), ylim=(3.84, 8.16), xt=[0.0, 0.1, 0.2, 0.3, 0.4],
         xtl=['0.0', '0.1', '0.2', '0.3', '0.4'], xm=[0.05, 0.15, 0.25, 0.35],
         letter='D', lpos=(480, 250), strip=4, title_y=262, ylab_x=497, tick_c=476.5, xlab_c=493),
    dict(rect=(26, 549, 228, 740), pts=e_points, cx=e_curve_x, cy=e_curve_y, lo=e_curve_lo, hi=e_curve_hi,
         xlim=(-0.017, 0.389), ylim=(3.84, 8.13), xt=[0.0, 0.1, 0.2, 0.3],
         xtl=['0.0', '0.1', '0.2', '0.3'], xm=[0.05, 0.15, 0.25, 0.35],
         letter='E', lpos=(2, 523), strip=8, title_y=531, ylab_x=13, tick_c=753.5, xlab_c=764.5),
    dict(rect=(261, 548, 462, 740), pts=f_points, cx=f_curve_x, cy=f_curve_y, lo=f_curve_lo, hi=f_curve_hi,
         xlim=(0.0, 0.362), ylim=(3.84, 8.13), xt=[0.1, 0.2, 0.3],
         xtl=['0.1', '0.2', '0.3'], xm=[0.05, 0.15, 0.25, 0.35],
         letter='F', lpos=(242, 520), strip=7, title_y=531, ylab_x=252, tick_c=753.5, xlab_c=764.5),
    dict(rect=(504, 548, 706, 740), pts=g_points, cx=g_curve_x, cy=g_curve_y, lo=g_curve_lo, hi=g_curve_hi,
         xlim=(0.104, 1.097), ylim=(3.84, 8.13), xt=[0.3, 0.6, 0.9],
         xtl=['0.3', '0.6', '0.9'], xm=[0.15, 0.45, 0.75, 1.05],
         letter='G', lpos=(480, 523), strip=7, title_y=531, ylab_x=493, tick_c=753.5, xlab_c=764.5),
]

for i, pnl in enumerate(panels):
    l, t, r, b = pnl['rect']
    wpx, hpx = r - l, b - t
    ax = fig.add_axes(fr(l, t, r, b))
    pts = np.array(pnl['pts'])
    sns.scatterplot(x=pts[:, 0], y=pts[:, 1], ax=ax, s=25, color='#262626', linewidth=0, zorder=2,
                    legend=False)
    ax.fill_between(pnl['cx'], pnl['lo'], pnl['hi'], color='#999999', alpha=0.4, linewidth=0, zorder=3)
    sns.lineplot(x=pnl['cx'], y=pnl['cy'], ax=ax, color='#3366FF', linewidth=1.6, sort=False,
                 zorder=4, legend=False)
    ax.set_xlim(*pnl['xlim'])
    ax.set_ylim(*pnl['ylim'])
    ax.set_xticks(pnl['xt'])
    ax.set_xticklabels(pnl['xtl'])
    ax.set_xticks(pnl['xm'], minor=True)
    ax.set_yticks([4, 5, 6, 7, 8])
    ax.set_yticks([4.5, 5.5, 6.5, 7.5], minor=True)
    ax.set_yticklabels([])
    ax.set_axisbelow(True)
    ax.grid(True, which='major', color=GRID_MAJ, lw=0.8)
    ax.grid(True, which='minor', color=GRID_MIN, lw=0.5)
    tick_len_px = 3.0
    label_half = 5.0
    pad_px = (pnl['tick_c'] - b) - tick_len_px - label_half
    ax.tick_params(axis='x', which='major', labelsize=8, length=tick_len_px * 0.72, color='#333333',
                   pad=max(pad_px, 0) * 0.72, labelcolor=TXT, bottom=True)
    ax.tick_params(axis='y', which='both', length=0)
    ax.tick_params(axis='x', which='minor', length=0)
    for lbl in ax.get_xticklabels():
        lbl.set_fontweight('bold')
    ax.set_xlabel('Infiltration Level', fontsize=9, fontweight='bold', color=TXT)
    ax.xaxis.set_label_coords(0.5 + 4 / wpx, -((pnl['xlab_c'] - 6.5) - b) / hpx)
    ax.set_ylabel(r'CD276 Expression Level (log$_{2}$ TPM)', fontsize=8, fontweight='bold', color=TXT)
    ax.yaxis.set_label_coords((pnl['ylab_x'] + 5.5 - l) / wpx, 0.5)
    style_spines(ax)
    add_strip(l, t, r, pnl['strip'])
    fig.text((l + r) / 2 / W, 1 - pnl['title_y'] / H, panel_titles[i], ha='center', va='center',
             fontsize=8, fontweight='bold', color=TXT)
    fig.text(pnl['lpos'][0] / W, 1 - pnl['lpos'][1] / H, pnl['letter'], ha='left', va='top',
             fontsize=14, fontweight='bold', color='black')
    ax.text(1 - 4 / wpx, 1 - 4 / hpx,
            f"partial.cor = {partial_cor[i]:.3f}\np = {p_values[i]:.2e}",
            transform=ax.transAxes, ha='right', va='top', fontsize=10, color='#E41A1C',
            linespacing=0.95, zorder=6)

fig.savefig('out.png', dpi=100, facecolor='white')
